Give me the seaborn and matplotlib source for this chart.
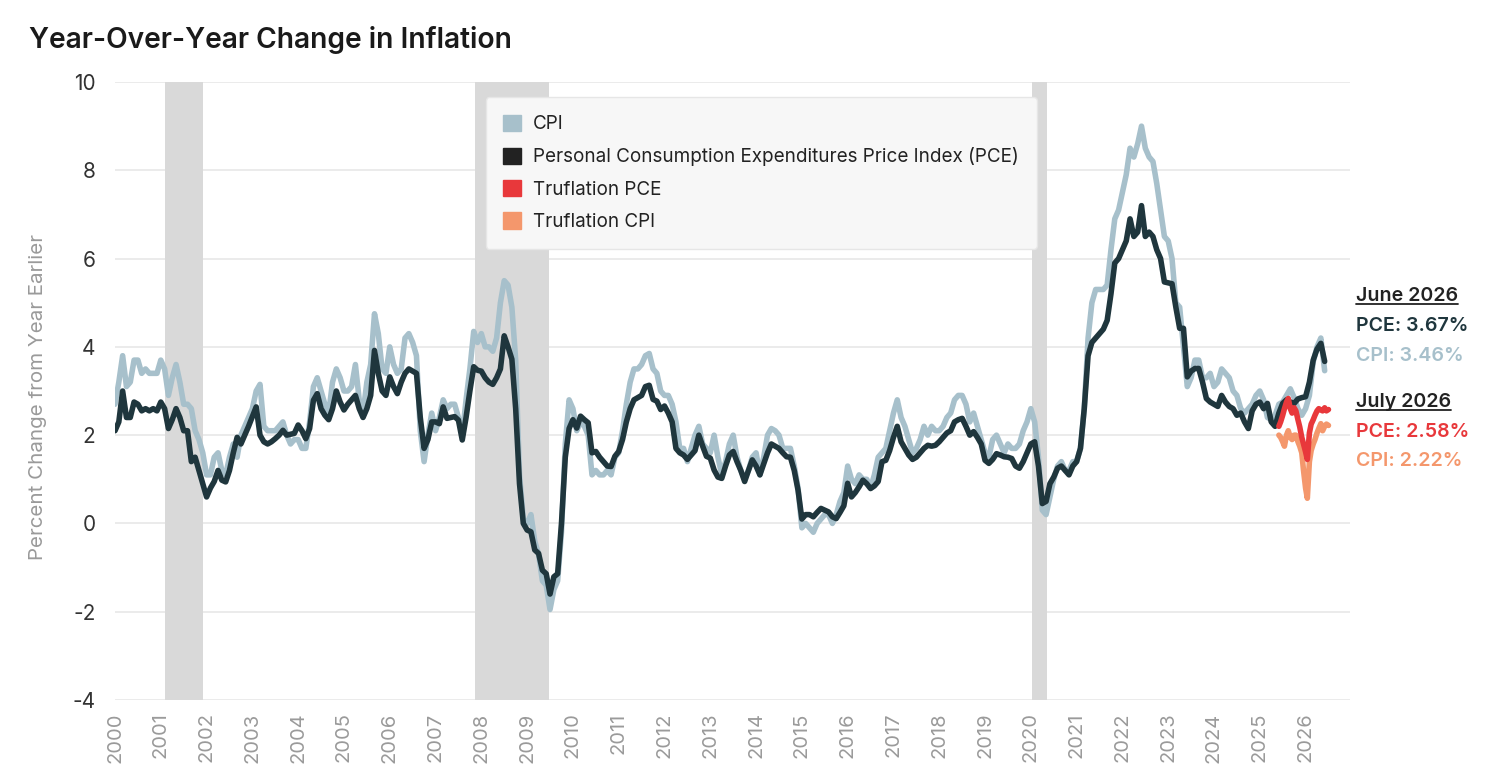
import matplotlib
matplotlib.use("Agg")
import matplotlib.pyplot as plt
from matplotlib.patches import Patch
from matplotlib.lines import Line2D
import pandas as pd
import seaborn as sns

# monthly year-over-year change, Jan 2000 .. Jun 2026 (one row per year)
cpi = [
    2.7, 3.2, 3.8, 3.1, 3.2, 3.7, 3.7, 3.4, 3.5, 3.4, 3.4, 3.4,
    3.7, 3.5, 2.9, 3.3, 3.6, 3.2, 2.7, 2.7, 2.6, 2.1, 1.9, 1.6,
    1.1, 1.1, 1.5, 1.6, 1.2, 1.1, 1.5, 1.8, 1.5, 2.0, 2.2, 2.4,
    2.6, 3.0, 3.15, 2.2, 2.1, 2.1, 2.1, 2.2, 2.3, 2.0, 1.8, 1.9,
    1.9, 1.7, 1.7, 2.3, 3.1, 3.3, 3.0, 2.7, 2.5, 3.2, 3.5, 3.3,
    3.0, 3.0, 3.1, 3.6, 2.8, 2.5, 3.2, 3.6, 4.75, 4.3, 3.5, 3.4,
    4.0, 3.6, 3.4, 3.5, 4.2, 4.3, 4.1, 3.8, 2.1, 1.4, 2.0, 2.5,
    2.1, 2.4, 2.8, 2.6, 2.7, 2.7, 2.4, 2.0, 2.8, 3.5, 4.35, 4.1,
    4.3, 4.0, 4.0, 3.9, 4.2, 5.0, 5.5, 5.4, 4.9, 3.7, 1.1, 0.1,
    0.0, 0.2, -0.4, -0.7, -1.3, -1.4, -1.95, -1.5, -1.3, -0.2, 1.8, 2.8,
    2.6, 2.1, 2.3, 2.2, 2.0, 1.1, 1.2, 1.1, 1.1, 1.2, 1.1, 1.5,
    1.6, 2.1, 2.7, 3.2, 3.5, 3.5, 3.6, 3.8, 3.85, 3.5, 3.4, 3.0,
    2.9, 2.9, 2.7, 2.3, 1.7, 1.7, 1.4, 1.7, 2.0, 2.2, 1.8, 1.7,
    1.6, 2.0, 1.5, 1.1, 1.4, 1.8, 2.0, 1.5, 1.2, 1.0, 1.2, 1.5,
    1.6, 1.1, 1.5, 2.0, 2.15, 2.1, 2.0, 1.7, 1.7, 1.7, 1.3, 0.8,
    -0.1, 0.0, -0.1, -0.2, 0.0, 0.1, 0.2, 0.2, 0.0, 0.2, 0.5, 0.7,
    1.3, 1.0, 0.9, 1.1, 1.0, 1.0, 0.8, 1.1, 1.5, 1.6, 1.7, 2.1,
    2.5, 2.8, 2.4, 2.2, 1.9, 1.6, 1.7, 1.9, 2.2, 2.0, 2.2, 2.1,
    2.1, 2.2, 2.4, 2.5, 2.8, 2.9, 2.9, 2.7, 2.3, 2.5, 2.2, 1.9,
    1.6, 1.5, 1.9, 2.0, 1.8, 1.6, 1.8, 1.7, 1.7, 1.8, 2.1, 2.3,
    2.6, 2.3, 1.5, 0.3, 0.2, 0.6, 1.0, 1.3, 1.4, 1.2, 1.2, 1.4,
    1.4, 1.7, 2.6, 4.2, 5.0, 5.3, 5.3, 5.3, 5.4, 6.2, 6.9, 7.1,
    7.5, 7.9, 8.5, 8.3, 8.6, 9.0, 8.5, 8.3, 8.2, 7.7, 7.1, 6.5,
    6.4, 6.0, 5.0, 4.9, 4.0, 3.1, 3.3, 3.7, 3.7, 3.3, 3.3, 3.4,
    3.1, 3.2, 3.5, 3.4, 3.3, 3.0, 2.9, 2.6, 2.5, 2.6, 2.7, 2.9,
    3.0, 2.8, 2.4, 2.35, 2.45, 2.7, 2.75, 2.9, 3.05, 2.85, 2.6, 2.45,
    2.6, 2.9, 3.66, 4.0, 4.2, 3.46,
]
pce = [
    2.1, 2.3, 3.0, 2.4, 2.4, 2.75, 2.7, 2.55, 2.6, 2.55, 2.6, 2.55,
    2.75, 2.6, 2.15, 2.35, 2.6, 2.4, 2.1, 2.1, 1.4, 1.5, 1.2, 0.9,
    0.6, 0.8, 0.95, 1.2, 0.98, 0.94, 1.2, 1.6, 1.95, 1.8, 2.0, 2.2,
    2.42, 2.64, 2.0, 1.85, 1.8, 1.85, 1.92, 2.0, 2.11, 2.0, 2.02, 2.04,
    2.23, 2.1, 1.92, 2.15, 2.79, 2.94, 2.6, 2.45, 2.35, 2.6, 3.0, 2.75,
    2.57, 2.7, 2.8, 2.9, 2.6, 2.4, 2.6, 2.9, 3.92, 3.4, 3.0, 2.9,
    3.32, 3.1, 2.94, 3.2, 3.4, 3.5, 3.45, 3.4, 2.4, 1.7, 1.9, 2.3,
    2.3, 2.26, 2.64, 2.38, 2.4, 2.42, 2.34, 1.89, 2.4, 3.0, 3.55, 3.47,
    3.45, 3.3, 3.2, 3.15, 3.3, 3.5, 4.25, 4.0, 3.72, 2.6, 0.9, 0.0,
    -0.15, -0.19, -0.6, -0.68, -1.06, -1.14, -1.6, -1.21, -1.14, 0.0, 1.5, 2.15,
    2.35, 2.16, 2.43, 2.35, 2.28, 1.6, 1.63, 1.5, 1.4, 1.3, 1.29, 1.52,
    1.63, 1.9, 2.3, 2.6, 2.8, 2.85, 2.9, 3.1, 3.13, 2.81, 2.77, 2.58,
    2.66, 2.5, 2.3, 1.7, 1.6, 1.55, 1.45, 1.55, 1.65, 2.0, 1.75, 1.52,
    1.48, 1.21, 1.05, 1.02, 1.3, 1.55, 1.63, 1.4, 1.2, 0.95, 1.2, 1.44,
    1.3, 1.1, 1.35, 1.6, 1.8, 1.75, 1.7, 1.6, 1.51, 1.5, 1.2, 0.75,
    0.1, 0.2, 0.2, 0.15, 0.25, 0.34, 0.3, 0.26, 0.15, 0.11, 0.25, 0.4,
    0.91, 0.6, 0.7, 0.83, 0.98, 0.9, 0.79, 0.85, 0.95, 1.4, 1.43, 1.65,
    1.95, 2.2, 1.85, 1.7, 1.55, 1.45, 1.5, 1.6, 1.7, 1.77, 1.75, 1.77,
    1.85, 1.95, 2.05, 2.1, 2.3, 2.35, 2.38, 2.2, 2.0, 2.08, 1.95, 1.8,
    1.43, 1.36, 1.45, 1.58, 1.55, 1.51, 1.5, 1.47, 1.3, 1.25, 1.4, 1.6,
    1.8, 1.85, 1.3, 0.45, 0.5, 0.9, 1.05, 1.25, 1.3, 1.2, 1.1, 1.3,
    1.4, 1.7, 2.6, 3.8, 4.1, 4.2, 4.3, 4.4, 4.6, 5.2, 5.9, 6.0,
    6.2, 6.4, 6.9, 6.5, 6.6, 7.2, 6.5, 6.6, 6.5, 6.2, 6.0, 5.47,
    5.45, 5.43, 4.9, 4.42, 4.42, 3.32, 3.45, 3.51, 3.51, 3.2, 2.83, 2.75,
    2.7, 2.65, 2.9, 2.75, 2.65, 2.6, 2.45, 2.5, 2.3, 2.15, 2.55, 2.7,
    2.75, 2.6, 2.72, 2.3, 2.2, 2.5, 2.72, 2.8, 2.75, 2.72, 2.82, 2.85,
    2.87, 3.2, 3.7, 3.95, 4.08, 3.67,
]
# Truflation readings, twice a month from Jun 2025 to Jul 2026
tru_pce = [
    2.2, 2.3, 2.45, 2.6, 2.75, 2.83, 2.6, 2.5, 2.62, 2.55, 2.35, 2.19, 1.95,
    1.8, 1.62, 1.45, 2.05, 2.25, 2.35, 2.45, 2.55, 2.6, 2.57, 2.55, 2.62, 2.55, 2.58,
]
tru_cpi = [
    2.0, 1.95, 1.85, 1.75, 2.0, 2.1, 1.95, 1.9, 2.0, 2.0, 1.85, 1.75, 1.6,
    1.2, 0.8, 0.57, 1.4, 1.65, 1.8, 1.9, 2.05, 2.15, 2.26, 2.1, 2.2, 2.25, 2.22,
]
recessions = [(2001.1, 2001.92), (2007.87, 2009.48), (2020.03, 2020.35)]
year_ticks = list(range(2000, 2027))
y_ticks = list(range(-4, 11, 2))

CPI_C = "#a7c0cb"
PCE_C = "#1f363d"
TPCE_C = "#e8383b"
TCPI_C = "#f4976c"


def dec_year(d):
    return d.year + (d.month - 1) / 12 + (d.day - 1) / 365


months = pd.date_range("2000-01-01", periods=len(cpi), freq="MS")
half_months = pd.date_range("2025-06-01", periods=len(tru_pce), freq="SMS")
df = pd.DataFrame({"x": dec_year(months), "CPI": cpi, "PCE": pce})
tf = pd.DataFrame({"x": dec_year(half_months), "PCE": tru_pce, "CPI": tru_cpi})

sns.set_theme(style="white")
plt.rcParams["font.family"] = ["Inter", "DejaVu Sans"]
plt.rcParams["axes.unicode_minus"] = False

fig = plt.figure(figsize=(14.92, 7.77), dpi=100)
ax = fig.add_axes([115 / 1492, 77 / 777, 1235 / 1492, 618 / 777])

for a, b in recessions:
    ax.axvspan(a, b, color="#d9d9d9", lw=0, zorder=1)

line_kw = dict(lw=4.0, solid_joinstyle="round", solid_capstyle="round")
sns.lineplot(data=df, x="x", y="CPI", color=CPI_C, ax=ax, zorder=3, **line_kw)
sns.lineplot(data=df, x="x", y="PCE", color=PCE_C, ax=ax, zorder=4, **line_kw)
sns.lineplot(data=tf, x="x", y="CPI", color=TCPI_C, ax=ax, zorder=5, **line_kw)
sns.lineplot(data=tf, x="x", y="PCE", color=TPCE_C, ax=ax, zorder=6, **line_kw)

ax.set_xlim(2000, 2026.97)
ax.set_ylim(-4, 10)
ax.set_xticks(year_ticks)
ax.set_xticklabels([str(y) for y in year_ticks], rotation=90, color="#9a9a9a", fontsize=14.5)
ax.set_yticks(y_ticks)
ax.set_yticklabels([str(v) for v in y_ticks], color="#333333", fontsize=15)
ax.tick_params(axis="x", length=0, pad=9)
ax.tick_params(axis="y", length=0, pad=14)
ax.yaxis.grid(True, color="#e8e8e8", lw=1.2, zorder=0)
ax.xaxis.grid(False)
ax.set_axisbelow(True)
for s in ax.spines.values():
    s.set_visible(False)
ax.set_xlabel("")
ax.set_ylabel("")

fig.text(38 / 1492, 1 - 397 / 777, "Percent Change from Year Earlier", rotation=90,
         ha="center", va="center", color="#9a9a9a", fontsize=14.8)
fig.text(29 / 1492, 1 - 40 / 777, "Year-Over-Year Change in Inflation",
         ha="left", va="center", color="#1a1a1a", fontsize=20.3, fontweight="semibold")

handles = [
    Patch(facecolor=CPI_C, edgecolor=CPI_C, label="CPI"),
    Patch(facecolor="#222222", edgecolor="#222222", label="Personal Consumption Expenditures Price Index (PCE)"),
    Patch(facecolor=TPCE_C, edgecolor=TPCE_C, label="Truflation PCE"),
    Patch(facecolor=TCPI_C, edgecolor=TCPI_C, label="Truflation CPI"),
]
leg = ax.legend(handles=handles, loc="upper left", bbox_to_anchor=(0.300, 0.976),
                frameon=True, facecolor="#f7f7f7", edgecolor="#e6e6e6", fontsize=13.6,
                handlelength=0.95, handleheight=0.95, handletextpad=0.6, labelspacing=0.73,
                borderpad=0.95, borderaxespad=0, fancybox=True, framealpha=1)
for t in leg.get_texts():
    t.set_color("#222222")
leg.set_zorder(10)

# end-of-series readouts on the right
xr = 1356 / 1492
notes = [
    ("June 2026", "#222222", 296, True),
    ("PCE: 3.67%", PCE_C, 326, False),
    ("CPI: 3.46%", CPI_C, 356, False),
    ("July 2026", "#222222", 402, True),
    ("PCE: 2.58%", TPCE_C, 432, False),
    ("CPI: 2.22%", TCPI_C, 461, False),
]
renderer = fig.canvas.get_renderer()
for txt, col, ypix, underline in notes:
    t = fig.text(xr, 1 - ypix / 777, txt, ha="left", va="center", color=col,
                 fontsize=14.1, fontweight="semibold")
    if underline:
        bb = t.get_window_extent(renderer=renderer)
        yl = (bb.y0 + 1) / fig.bbox.height
        fig.add_artist(Line2D([bb.x0 / fig.bbox.width, bb.x1 / fig.bbox.width], [yl, yl],
                              color="#222222", lw=1.3, transform=fig.transFigure))

fig.savefig("out.png", dpi=100)
